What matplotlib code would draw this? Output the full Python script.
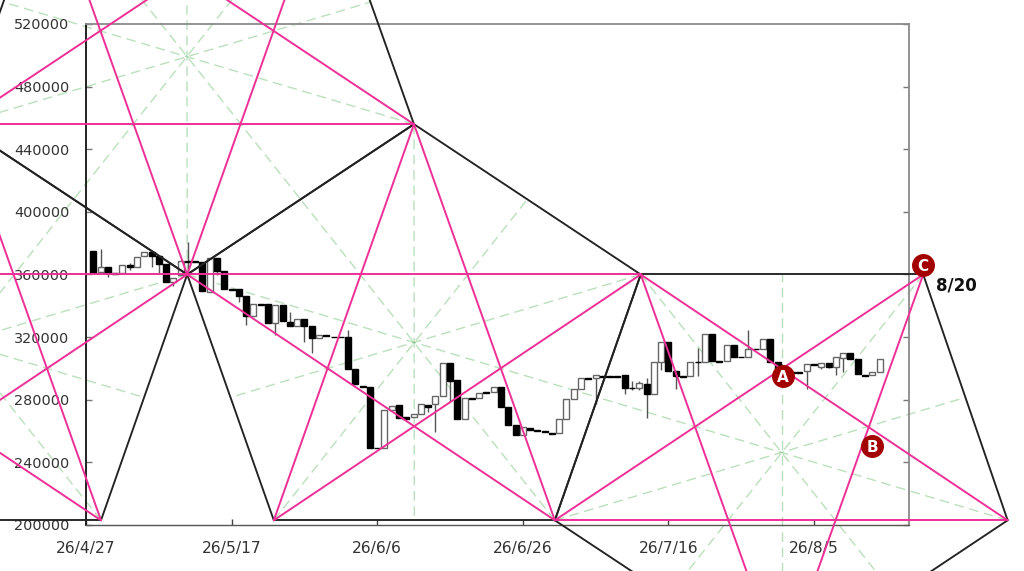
import matplotlib
matplotlib.use("Agg")
import matplotlib.pyplot as plt

# --- data -------------------------------------------------------------
tick_days = [0, 20, 40, 60, 80, 100]
tick_dates = ["26/4/27", "26/5/17", "26/6/6", "26/6/26", "26/7/16", "26/8/5"]
price_ticks = [200000, 240000, 280000, 320000, 360000, 400000, 440000, 480000, 520000]

days = list(range(1, 110))
opens = [375200, 361800, 364500, 361000, 360700, 366000, 365000, 371800, 374600, 371800,
         367000, 355400, 359600, 368800, 368800, 367700, 349000, 370300, 362400, 350700,
         350700, 346200, 333400, 341100, 341100, 329200, 340500, 329800, 327000, 331300,
         327000, 319200, 321300, 320200, 320200, 320250, 299400, 289000, 288300, 249500,
         248900, 273400, 276400, 269100, 269100, 271200, 276400, 277000, 282300, 303600,
         292600, 267900, 281300, 281300, 284900, 284900, 287900, 275500, 263800, 257800,
         262100, 260400, 260000, 258900, 258900, 267400, 280200, 286600, 293600, 293600,
         295300, 295300, 295300, 295800, 287800, 287800, 290300, 283500, 303800, 317000,
         298200, 295000, 295000, 304200, 304200, 322300, 304600, 304600, 314800, 307400,
         307400, 312700, 312700, 319100, 303800, 298000, 297800, 297800, 298200, 302700,
         301000, 303500, 300600, 306700, 309900, 305900, 295700, 295700, 297600]
closes = [361100, 364500, 360700, 360300, 366000, 365000, 371400, 374600, 372000, 366700,
          355400, 357500, 368800, 368000, 368200, 349400, 370300, 362400, 350700, 350200,
          346200, 333400, 341100, 340500, 329200, 340500, 330500, 327000, 331300, 327000,
          319200, 321300, 320700, 319800, 319800, 299400, 289800, 288000, 249500, 248900,
          273400, 275900, 268100, 267900, 271200, 277000, 275500, 282300, 303600, 291900,
          267900, 280800, 280700, 284500, 284300, 287900, 275100, 263800, 257800, 262300,
          260600, 259900, 259500, 258400, 267400, 280200, 286600, 293600, 293100, 295800,
          294800, 294800, 294800, 287200, 287400, 290800, 283500, 303800, 317000, 298200,
          295000, 294600, 303800, 303800, 322300, 304600, 304200, 314800, 307400, 307000,
          312700, 312300, 319100, 303800, 298900, 296500, 297300, 297300, 303100, 302300,
          303500, 301000, 307000, 310100, 306300, 296300, 295300, 297600, 305900]
highs = [375200, 376000, 364500, 361000, 366000, 367100, 371400, 374600, 374600, 371800,
         367000, 357500, 368800, 380900, 368800, 367700, 370300, 370300, 362400, 350700,
         350700, 346200, 341100, 341100, 341100, 340500, 340500, 336200, 331300, 331300,
         327000, 321300, 321300, 320200, 320200, 324500, 299400, 289000, 288300, 249500,
         273400, 275900, 276400, 269100, 271200, 277000, 276400, 282300, 303600, 303600,
         292600, 280800, 281300, 284500, 284900, 287900, 287900, 275500, 263800, 262300,
         262100, 260400, 260000, 258900, 267400, 280200, 286600, 293600, 293600, 295800,
         295300, 295300, 295300, 295800, 291800, 292000, 294000, 303800, 317000, 317000,
         298200, 295000, 303800, 313100, 322300, 322300, 304600, 314800, 314800, 307400,
         324800, 312700, 319100, 319100, 303800, 298000, 297800, 297800, 303100, 302700,
         303500, 303500, 307000, 310100, 309900, 305900, 295700, 297600, 305900]
lows = [361100, 360700, 358500, 360300, 360700, 362800, 365000, 371800, 364500, 360700,
        355400, 352600, 359600, 359000, 368200, 349400, 349000, 359600, 350700, 350200,
        342600, 327700, 333400, 340500, 329200, 321300, 330500, 327000, 327000, 317000,
        310000, 319200, 320700, 319800, 319800, 299400, 289800, 288000, 249500, 248900,
        248900, 273400, 268100, 267900, 269100, 271200, 272300, 259500, 282300, 278700,
        267900, 267900, 280700, 281300, 284300, 284900, 275100, 263800, 257800, 257800,
        260600, 259900, 259500, 258400, 258900, 267400, 280200, 286600, 293100, 277600,
        294800, 294800, 294800, 283600, 286000, 286100, 268600, 283500, 298900, 298200,
        286700, 294600, 295000, 295200, 304200, 304600, 304200, 304600, 307400, 307000,
        307400, 312300, 312700, 303800, 298900, 296500, 297300, 297300, 286700, 302300,
        299500, 300000, 295700, 297800, 306300, 296300, 295300, 295700, 297600]

# pentagon corners, clockwise (day, price)
pentagon_a = [(-17.3, 456000), (13.9, 360000), (2.06, 203000), (-36.5, 203000), (-48.5, 360000)]
pentagon_b = [(13.9, 360000), (-17.3, 456000), (-5.4, 612000), (33.1, 612000), (45.05, 456000)]
pentagon_c = [(45.05, 456000), (76.2, 360000), (64.4, 203000), (25.8, 203000), (13.9, 360000)]
pentagon_d = [(95.6, 107000), (64.4, 203000), (76.2, 360000), (115.0, 360000), (126.6, 203000)]
pentagons = [pentagon_a, pentagon_b, pentagon_c, pentagon_d]

marker_labels = ["A", "B", "C"]
marker_days = [95.7, 108.0, 115.0]
marker_prices = [295000, 250300, 366000]
note_text = "8/20"
note_day = 119.5
note_price = 353200

# --- figure -----------------------------------------------------------
W, H = 1024, 571
fig = plt.figure(figsize=(W / 100, H / 100), dpi=100, facecolor="white")
ax = fig.add_axes([86 / W, 1 - 525 / H, 823 / W, 501 / H])
ax.set_xlim(0, 113.05)
ax.set_ylim(200000, 520000)

BLACK = "#222222"
PINK = "#ee2f96"
GREEN = "#66bb6a"

# green dashed lines: each corner to the middle of the opposite side
for pts in pentagons:
    for i in range(5):
        a = pts[(i + 2) % 5]
        b = pts[(i + 3) % 5]
        mid = ((a[0] + b[0]) / 2, (a[1] + b[1]) / 2)
        ax.plot([pts[i][0], mid[0]], [pts[i][1], mid[1]], color=GREEN, alpha=0.45,
                lw=1.0, dashes=(7, 4), clip_on=False, zorder=1)

# candles
for d, o, c, h, l in zip(days, opens, closes, highs, lows):
    ax.vlines(d, l, h, color="#555555", lw=1.0, zorder=2)
    up = c > o
    ax.bar(d, abs(c - o), bottom=min(o, c), width=0.82,
           facecolor="white" if up else "black",
           edgecolor="#666666" if up else "black", linewidth=1.0, zorder=3)

# black sides and pink diagonals
for pts in pentagons:
    for i in range(5):
        a, b = pts[i], pts[(i + 1) % 5]
        ax.plot([a[0], b[0]], [a[1], b[1]], color=BLACK, lw=1.35,
                clip_on=False, zorder=4, solid_capstyle="round")
for pts in pentagons:
    for i in range(5):
        a, b = pts[i], pts[(i + 2) % 5]
        ax.plot([a[0], b[0]], [a[1], b[1]], color=PINK, lw=1.4,
                clip_on=False, zorder=5, solid_capstyle="round")

# letter markers
for lab, d, p in zip(marker_labels, marker_days, marker_prices):
    ax.plot([d], [p], "o", ms=15.5, mfc="#a30000", mec="#a30000", clip_on=False, zorder=7)
    ax.text(d, p, lab, color="white", fontsize=11, fontweight="bold", ha="center",
            va="center_baseline", zorder=8, clip_on=False)
ax.text(note_day, note_price, note_text, color="#111111", fontsize=12, fontweight="bold",
        ha="center", va="center", clip_on=False, zorder=8)

# axes
ax.set_xticks(tick_days)
ax.set_xticklabels(tick_dates)
ax.set_yticks(price_ticks)
ax.set_yticklabels([str(v) for v in price_ticks])
ax.tick_params(axis="x", direction="in", length=4.5, width=1.0, color="#444444",
               labelsize=11.2, labelcolor="#333333", pad=11.5)
ax.tick_params(axis="y", direction="in", length=4.5, width=1.0, color="#777777",
               labelsize=10.4, labelcolor="#333333", pad=12, right=True)
ax.spines["left"].set_color("#111111")
ax.spines["left"].set_linewidth(1.3)
ax.spines["top"].set_color("#8a8a8a")
ax.spines["top"].set_linewidth(1.3)
ax.spines["right"].set_color("#8a8a8a")
ax.spines["right"].set_linewidth(1.3)
ax.spines["bottom"].set_color("#555555")
ax.spines["bottom"].set_linewidth(1.0)
for s in ax.spines.values():
    s.set_zorder(3.5)

fig.savefig("out.png", dpi=100)
